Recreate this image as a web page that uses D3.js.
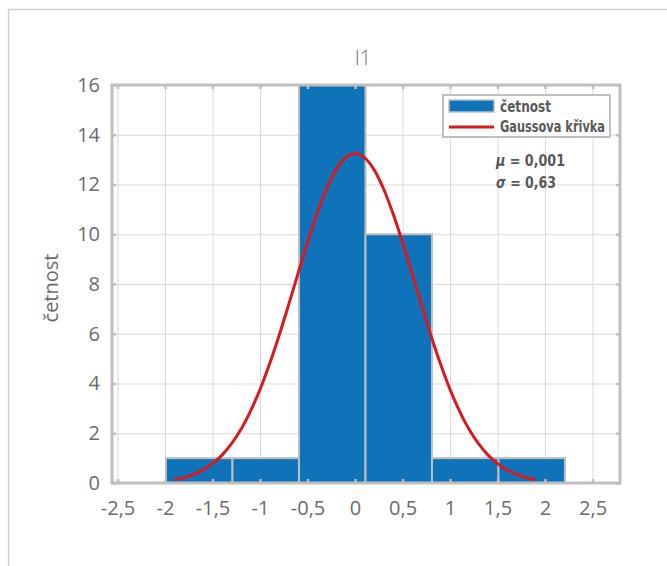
<!DOCTYPE html>
<html>
<head>
    <title>I1</title>
    <meta charset="utf-8">
    <script src="https://d3js.org/d3.v7.min.js"></script>
    <style>
        body { margin: 0; background: #fff; }
        svg text { font-family: 'Open Sans', sans-serif; fill: #6b6b6b; }
        svg text.leg { font-family: 'DejaVu Sans Condensed', 'DejaVu Sans', sans-serif; font-stretch: condensed; font-weight: bold; font-size: 16px; fill: #595959; }
    </style>
</head>
<body>
<svg id="chart"></svg>
<script>
    // bins of the histogram (edges) and counts
    var binEdges = [-1.99, -1.29, -0.59, 0.11, 0.81, 1.51, 2.21];
    var counts = [1, 1, 16, 10, 1, 1];
    // Gauss curve
    var curveX = [-1.9, -1.8, -1.7, -1.6, -1.5, -1.4, -1.3, -1.2, -1.1, -1.0, -0.9, -0.8, -0.7, -0.6, -0.5, -0.4, -0.3, -0.2, -0.1, 0,
                  0.1, 0.2, 0.3, 0.4, 0.5, 0.6, 0.7, 0.8, 0.9, 1.0, 1.1, 1.2, 1.3, 1.4, 1.5, 1.6, 1.7, 1.8, 1.9];
    var curveY = [0.14, 0.22, 0.35, 0.53, 0.78, 1.12, 1.58, 2.16, 2.89, 3.76, 4.78, 5.92, 7.15, 8.42, 9.67, 10.83, 11.83, 12.60, 13.08, 13.25,
                  13.08, 12.60, 11.83, 10.83, 9.67, 8.42, 7.15, 5.92, 4.78, 3.76, 2.89, 2.16, 1.58, 1.12, 0.78, 0.53, 0.35, 0.22, 0.14];
    var xTicks = [-2.5, -2, -1.5, -1, -0.5, 0, 0.5, 1, 1.5, 2, 2.5];
    var yTicks = [0, 2, 4, 6, 8, 10, 12, 14, 16];

    var width = 667;
    var height = 566;
    var margin = { top: 85, right: 47, bottom: 83, left: 112 };
    var innerWidth = width - margin.left - margin.right;
    var innerHeight = height - margin.top - margin.bottom;
    var gridColor = '#d9d9d9';
    var frameColor = '#bfbfbf';

    var svg = d3.select('#chart')
        .attr('width', width)
        .attr('height', height);

    // outer frame (only left and top visible)
    svg.append('rect')
        .attr('x', 8.5).attr('y', 9.5)
        .attr('width', 700).attr('height', 600)
        .attr('fill', 'none')
        .attr('stroke', '#d0d0d0')
        .attr('stroke-width', 1.5);

    var xScale = d3.scaleLinear()
        .domain([-2.558, 2.789])
        .range([0, innerWidth]);

    var yScale = d3.scaleLinear()
        .domain([0, 16])
        .range([innerHeight, 0]);

    var fmt = function(d) { return String(d).replace('.', ','); };

    // axis without labels: only lines
    function linesOnly(g, w) {
        g.select('.domain').remove();
        g.selectAll('text').remove();
        g.selectAll('line').attr('stroke', w ? frameColor : gridColor).attr('stroke-width', w || 1);
    }

    var chart = svg.append('g')
        .attr('transform', 'translate(' + margin.left + ',' + margin.top + ')');

    // grid
    chart.append('g')
        .call(d3.axisBottom(xScale).tickValues(xTicks).tickSize(innerHeight))
        .call(linesOnly);

    chart.append('g')
        .call(d3.axisLeft(yScale).tickValues(yTicks).tickSize(-innerWidth))
        .call(linesOnly);

    // bars
    chart.selectAll('rect.bar')
        .data(counts)
        .enter()
        .append('rect')
        .attr('class', 'bar')
        .attr('x', function(d, i) { return xScale(binEdges[i]); })
        .attr('y', function(d) { return yScale(d); })
        .attr('width', function(d, i) { return xScale(binEdges[i + 1]) - xScale(binEdges[i]); })
        .attr('height', function(d) { return innerHeight - yScale(d); })
        .attr('fill', '#0f73ba')
        .attr('stroke', frameColor)
        .attr('stroke-width', 2);

    // gauss curve
    var line = d3.line()
        .x(function(d, i) { return xScale(curveX[i]); })
        .y(function(d) { return yScale(d); })
        .curve(d3.curveCatmullRom);

    chart.append('path')
        .datum(curveY)
        .attr('d', line)
        .attr('fill', 'none')
        .attr('stroke', '#d71920')
        .attr('stroke-width', 3);

    // frame
    chart.append('rect')
        .attr('width', innerWidth)
        .attr('height', innerHeight)
        .attr('fill', 'none')
        .attr('stroke', frameColor)
        .attr('stroke-width', 3);

    // inner tick marks
    var tickLen = 4;
    chart.append('g')
        .attr('transform', 'translate(0,' + innerHeight + ')')
        .call(d3.axisBottom(xScale).tickValues(xTicks).tickSize(-tickLen).tickFormat(fmt))
        .call(function(g) { g.select('.domain').remove(); })
        .call(function(g) { g.selectAll('line').attr('stroke', frameColor).attr('stroke-width', 2.5); })
        .selectAll('text')
        .attr('y', 32)
        .attr('dy', null)
        .style('font-size', '20px');

    chart.append('g')
        .call(d3.axisTop(xScale).tickValues(xTicks).tickSize(-tickLen))
        .call(function(g) { linesOnly(g, 2.5); });

    chart.append('g')
        .call(d3.axisLeft(yScale).tickValues(yTicks).tickSize(-tickLen).tickPadding(12))
        .call(function(g) { g.select('.domain').remove(); })
        .call(function(g) { g.selectAll('line').attr('stroke', frameColor).attr('stroke-width', 2.5); })
        .selectAll('text')
        .style('font-size', '20px');

    chart.append('g')
        .attr('transform', 'translate(' + innerWidth + ',0)')
        .call(d3.axisRight(yScale).tickValues(yTicks).tickSize(-tickLen))
        .call(function(g) { linesOnly(g, 2.5); });

    // title
    svg.append('text')
        .attr('x', 363)
        .attr('y', 65)
        .attr('text-anchor', 'middle')
        .style('font-size', '20px')
        .style('font-weight', 300)
        .text('I1');

    // y label
    svg.append('text')
        .attr('transform', 'rotate(-90)')
        .attr('x', -288)
        .attr('y', 58)
        .attr('text-anchor', 'middle')
        .style('font-size', '20px')
        .text('četnost');

    // legend
    var legend = svg.append('g')
        .attr('transform', 'translate(443,95)');

    legend.append('rect')
        .attr('width', 167).attr('height', 42)
        .attr('fill', '#fff')
        .attr('stroke', frameColor)
        .attr('stroke-width', 2);

    legend.append('rect')
        .attr('x', 6).attr('y', 5)
        .attr('width', 45).attr('height', 12)
        .attr('fill', '#0f73ba')
        .attr('stroke', frameColor)
        .attr('stroke-width', 1.5);

    legend.append('line')
        .attr('x1', 6).attr('x2', 51)
        .attr('y1', 32).attr('y2', 32)
        .attr('stroke', '#d71920')
        .attr('stroke-width', 3);

    legend.append('text')
        .attr('class', 'leg')
        .attr('x', 57).attr('y', 17)
        .attr('textLength', 51)
        .attr('lengthAdjust', 'spacingAndGlyphs')
        .text('četnost');

    legend.append('text')
        .attr('class', 'leg')
        .attr('x', 57).attr('y', 37)
        .attr('textLength', 105)
        .attr('lengthAdjust', 'spacingAndGlyphs')
        .text('Gaussova křivka');

    svg.append('text')
        .attr('class', 'leg')
        .attr('x', 496).attr('y', 166)
        .attr('textLength', 69)
        .attr('lengthAdjust', 'spacingAndGlyphs')
        .html('<tspan font-style="italic">μ</tspan> = 0,001');
    svg.append('text')
        .attr('class', 'leg')
        .attr('x', 496).attr('y', 188)
        .attr('textLength', 60)
        .attr('lengthAdjust', 'spacingAndGlyphs')
        .html('<tspan font-style="italic">σ</tspan> = 0,63');
</script>
</body>
</html>
